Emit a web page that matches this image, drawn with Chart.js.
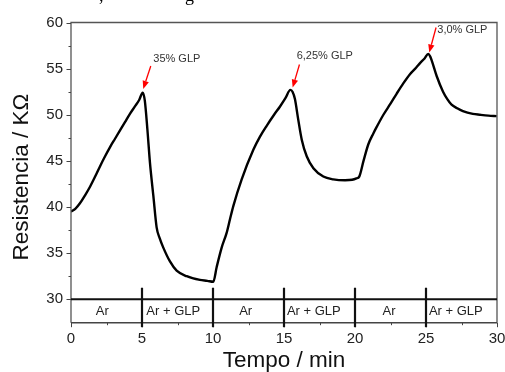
<!DOCTYPE html>
<html>
<head>
<meta charset="utf-8">
<script src="https://cdn.jsdelivr.net/npm/chart.js@4"></script>
<style>
html,body{margin:0;padding:0;background:#fff;}
canvas{display:block;}
</style>
</head>
<body>
<canvas id="c" width="505" height="372"></canvas>
<script>
// ---- data ----
const times = [0.0,0.3,0.63,1.0,1.34,1.7,2.04,2.4,2.75,3.1,3.45,3.8,4.15,4.5,4.8,5.05,
  5.2,5.38,5.56,5.8,6.03,6.25,6.5,6.97,7.44,8.15,9.08,9.6,10.02,
  10.26,10.61,10.96,11.2,11.43,12.02,12.84,13.3,13.78,14.3,14.72,15.1,15.45,
  15.6,15.77,16.0,16.25,16.6,17.07,17.77,18.47,19.3,19.8,20.1,20.3,
  20.6,20.94,21.3,21.5,22.0,22.5,22.94,23.4,23.87,24.3,24.58,24.9,25.16,
  25.3,25.4,25.75,26.2,26.5,26.8,27.2,27.6,28.3,28.8,29.4,29.98];
const resistance = [39.5,39.8,40.4,41.3,42.2,43.3,44.4,45.5,46.5,47.4,48.3,49.2,50.1,50.9,51.6,52.4,
  51.5,48.4,44.8,41.2,37.8,36.6,35.6,34.1,33.1,32.5,32.1,32.0,31.9,
  33.5,35.6,37.2,38.7,40.1,43.0,46.2,47.6,48.8,50.0,50.9,51.8,52.7,
  52.5,51.7,49.5,47.3,45.5,44.2,43.3,43.0,42.9,42.95,43.1,43.3,
  45.0,46.8,48.0,48.6,50.0,51.2,52.3,53.4,54.4,55.1,55.6,56.1,56.6,
  56.3,55.9,54.2,52.5,51.7,51.1,50.7,50.4,50.1,50.0,49.9,49.85];
const yTicks = [30,35,40,45,50,55,60];
const xTicks = [0,5,10,15,20,25,30];
const bandEdges = [5,10,15,20,25];
const bandLabels = ["Ar","Ar + GLP","Ar","Ar + GLP","Ar","Ar + GLP"];
const bandCenters = [2.2,7.2,12.3,17.1,22.4,27.1];
const annoTexts = ["35% GLP","6,25% GLP","3,0% GLP"];
const annoX = [5.09,15.61,25.23];
const annoY = [52.8,52.95,56.75];

const FONT = '"Liberation Sans", Arial, sans-serif';

const overlay = {
  id:'overlay',
  afterDraw(chart){
    const ctx = chart.ctx, xs = chart.scales.x, ys = chart.scales.y, a = chart.chartArea;
    ctx.save();
    // top cut-off caption fragments
    ctx.fillStyle = '#000';
    ctx.font = '18px "Liberation Serif", serif';
    ctx.textBaseline = 'alphabetic';
    ctx.fillText(',', 99, 1);
    ctx.fillText('g', 185, 1);
    // frame
    ctx.strokeStyle = '#555'; ctx.lineWidth = 1.3;
    ctx.beginPath();
    ctx.moveTo(a.left, a.bottom); ctx.lineTo(a.left, a.top); ctx.lineTo(a.right, a.top); ctx.lineTo(a.right, a.bottom);
    ctx.stroke();
    ctx.strokeStyle = '#444'; ctx.lineWidth = 1.5;
    ctx.beginPath(); ctx.moveTo(a.left, a.bottom); ctx.lineTo(a.right, a.bottom); ctx.stroke();
    // y ticks
    ctx.strokeStyle = '#444'; ctx.lineWidth = 1;
    for (let v = 30; v <= 60; v += 2.5) {
      const p = Math.round(ys.getPixelForValue(v)) + 0.5;
      const len = (v % 5 === 0) ? 4.5 : 2.5;
      ctx.beginPath(); ctx.moveTo(a.left - len, p); ctx.lineTo(a.left, p); ctx.stroke();
    }
    // x ticks
    for (let v = 0; v <= 30; v += 2.5) {
      const p = Math.round(xs.getPixelForValue(v)) + 0.5;
      const len = (v % 5 === 0) ? 4.5 : 2.5;
      ctx.beginPath(); ctx.moveTo(p, a.bottom); ctx.lineTo(p, a.bottom + len); ctx.stroke();
    }
    // x tick labels
    ctx.fillStyle = '#222'; ctx.font = '15px ' + FONT;
    ctx.textAlign = 'center'; ctx.textBaseline = 'middle';
    xTicks.forEach(v => ctx.fillText(String(v), xs.getPixelForValue(v), a.bottom + 16));
    // band line at 30
    ctx.strokeStyle = '#111'; ctx.lineWidth = 2.2;
    const y30 = ys.getPixelForValue(30);
    ctx.beginPath(); ctx.moveTo(a.left, y30); ctx.lineTo(a.right, y30); ctx.stroke();
    const yTop = ys.getPixelForValue(31.25);
    bandEdges.forEach(e => {
      const p = xs.getPixelForValue(e);
      ctx.beginPath(); ctx.moveTo(p, yTop); ctx.lineTo(p, a.bottom + 4.5); ctx.stroke();
    });
    ctx.fillStyle = '#222'; ctx.font = '13px ' + FONT;
    ctx.textAlign = 'center'; ctx.textBaseline = 'middle';
    const yMid = (y30 + a.bottom) / 2;
    bandLabels.forEach((t, i) => ctx.fillText(t, xs.getPixelForValue(bandCenters[i]), yMid));
    // annotations
    const off = [[7.5,-23],[6.8,-23],[6.8,-25]];
    const txtOff = [[10,-30],[4,-32],[8,-23]];
    annoTexts.forEach((t, i) => {
      const tx = xs.getPixelForValue(annoX[i]), ty = ys.getPixelForValue(annoY[i]);
      const sx = tx + off[i][0], sy = ty + off[i][1];
      const ang = Math.atan2(ty - sy, tx - sx);
      const hl = 8, hw = 3.2;
      const bx = tx - hl * Math.cos(ang), by = ty - hl * Math.sin(ang);
      ctx.strokeStyle = '#ff0000'; ctx.fillStyle = '#ff0000'; ctx.lineWidth = 1.3;
      ctx.beginPath(); ctx.moveTo(sx, sy); ctx.lineTo(bx, by); ctx.stroke();
      ctx.beginPath();
      ctx.moveTo(tx, ty);
      ctx.lineTo(bx + hw * Math.sin(ang), by - hw * Math.cos(ang));
      ctx.lineTo(bx - hw * Math.sin(ang), by + hw * Math.cos(ang));
      ctx.closePath(); ctx.fill();
      ctx.fillStyle = '#333'; ctx.font = '11px ' + FONT;
      ctx.textAlign = 'left'; ctx.textBaseline = 'middle';
      ctx.fillText(t, tx + txtOff[i][0], ty + txtOff[i][1]);
    });
    // axis titles
    ctx.fillStyle = '#111'; ctx.font = '22.5px ' + FONT;
    ctx.textAlign = 'center'; ctx.textBaseline = 'middle';
    ctx.fillText('Tempo / min', (a.left + a.right) / 2, 361);
    ctx.save();
    ctx.translate(22, 177); ctx.rotate(-Math.PI / 2);
    ctx.fillText('Resistencia / K\u03A9', 0, 0);
    ctx.restore();
    ctx.restore();
  }
};

new Chart(document.getElementById('c'), {
  type: 'line',
  data: {
    datasets: [{
      data: times.map((t, i) => ({x: t, y: resistance[i]})),
      borderColor: '#000', borderWidth: 2.4, pointRadius: 0,
      cubicInterpolationMode: 'monotone', fill: false
    }]
  },
  options: {
    responsive: false, animation: false, devicePixelRatio: 1,
    layout: {padding: {top: 22.5, right: 8, left: 0, bottom: 0}},
    plugins: {legend: {display: false}, tooltip: {enabled: false}},
    scales: {
      x: {
        type: 'linear', min: 0, max: 30,
        afterBuildTicks: s => { s.ticks = xTicks.map(v => ({value: v})); },
        afterFit: s => { s.height = 49.3; },
        grid: {display: false, drawTicks: false},
        border: {display: false},
        ticks: {display: false}
      },
      y: {
        type: 'linear', min: 27.46, max: 60,
        afterBuildTicks: s => { s.ticks = yTicks.map(v => ({value: v})); },
        afterFit: s => { s.width = 71; },
        grid: {display: false, drawTicks: false},
        border: {display: false},
        ticks: {color: '#222', font: {family: FONT, size: 15}, padding: 8}
      }
    }
  },
  plugins: [overlay]
});
</script>
</body>
</html>
